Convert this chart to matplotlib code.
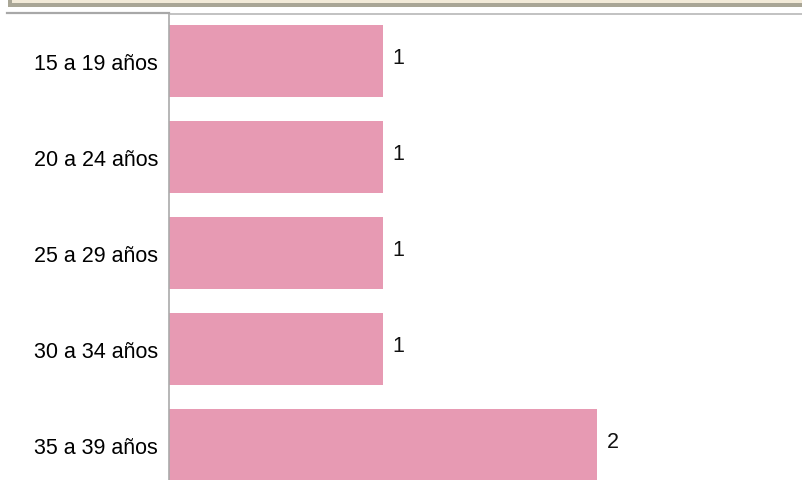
import matplotlib.pyplot as plt
from matplotlib.patches import Rectangle
from matplotlib.lines import Line2D

# datos
grupos = ["15 a 19 años", "20 a 24 años", "25 a 29 años", "30 a 34 años", "35 a 39 años"]
valores = [1, 1, 1, 1, 2]

W, H = 803, 481
plt.rcParams['font.family'] = ['Liberation Sans', 'DejaVu Sans']

fig = plt.figure(figsize=(W / 100, H / 100), dpi=100)

# panel beige arriba (recortado)
fig.patches.append(Rectangle((8 / W, 1 - 7.5 / H), 1, 7.5 / H, transform=fig.transFigure,
                             facecolor="#A9A696", edgecolor="none", zorder=0))
fig.patches.append(Rectangle((12 / W, 1 - 4 / H), 1, 4 / H, transform=fig.transFigure,
                             facecolor="#F2EAD8", edgecolor="none", zorder=1))
# linea gris a la izquierda del eje
fig.lines.append(Line2D([7 / W, 169 / W], [1 - 14 / H, 1 - 14 / H], transform=fig.transFigure,
                        color="#A8A8A8", linewidth=1.6))

ax = fig.add_axes([169 / W, 0, 1 - 169 / W, (H - 14.5) / H])

y = list(range(len(grupos)))
ax.barh(y, valores, height=0.75, color="#E79AB3")

# etiquetas de valor
for i, v in zip(y, valores):
    ax.annotate(str(v), (v, i), xytext=(7, 3), textcoords="offset points",
                va="center", ha="left", fontsize=15.5, color="#111111")

ax.set_xlim(0, (W - 169) / 214)
ax.set_ylim(4.36, -0.5)
ax.set_yticks(y)
ax.set_yticklabels(grupos, fontsize=15.5)
ax.set_xticks([])
ax.tick_params(axis="y", length=0, pad=8)

for s in ["right", "bottom"]:
    ax.spines[s].set_visible(False)
ax.spines["left"].set_color("#AAAAAA")
ax.spines["top"].set_color("#B8B8B8")
ax.spines["left"].set_linewidth(1.2)
ax.spines["top"].set_linewidth(1.2)

plt.savefig("out.png", dpi=100)
